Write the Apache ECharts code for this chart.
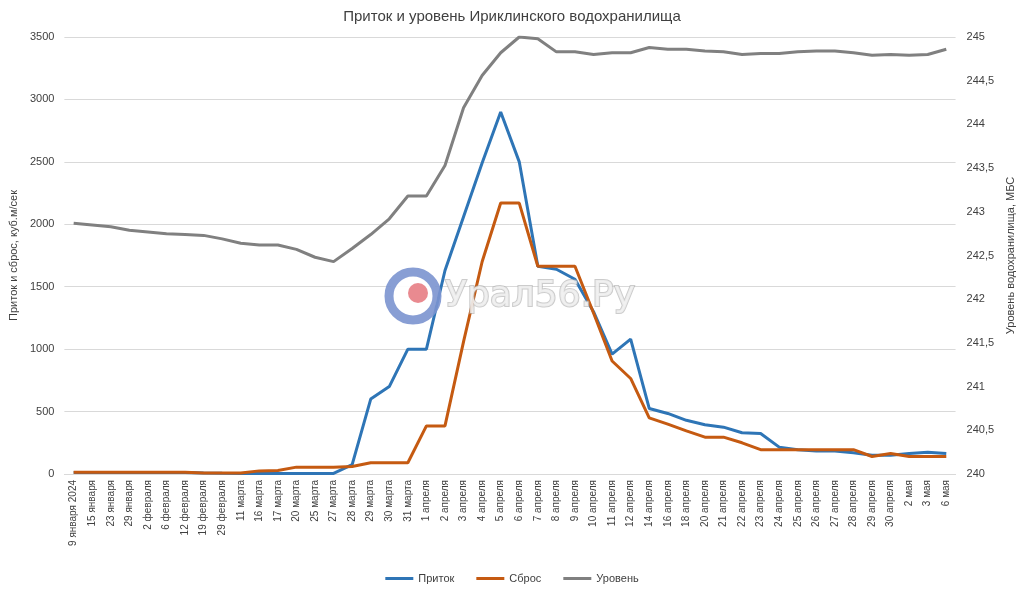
<!DOCTYPE html>
<html><head><meta charset="utf-8">
<script src="https://cdn.jsdelivr.net/npm/echarts@6/dist/echarts.min.js"></script>
<style>html,body{margin:0;padding:0;background:#fff}#c{width:1024px;height:595px}</style>
</head><body><div id="c"></div>
<script>
const categories = ["9 января 2024","15 января","23 января","29 января","2 февраля","6 февраля","12 февраля","19 февраля","29 февраля","11 марта","16 марта","17 марта","20 марта","25 марта","27 марта","28 марта","29 марта","30 марта","31 марта","1 апреля","2 апреля","3 апреля","4 апреля","5 апреля","6 апреля","7 апреля","8 апреля","9 апреля","10 апреля","11 апреля","12 апреля","14 апреля","16 апреля","18 апреля","20 апреля","21 апреля","22 апреля","23 апреля","24 апреля","25 апреля","26 апреля","27 апреля","28 апреля","29 апреля","30 апреля","2 мая","3 мая","6 мая"];
const inflow = [12,12,12,12,12,12,12,8,6,5,5,5,5,5,5,75,600,700,1000,1000,1630,2060,2490,2900,2500,1664,1640,1560,1300,960,1080,525,485,430,395,375,330,325,215,195,185,185,170,150,150,165,175,165];
const discharge = [15,15,15,15,15,15,15,8,8,8,25,28,55,55,55,60,90,90,90,385,385,1060,1700,2170,2170,1664,1664,1664,1290,905,765,450,400,345,295,295,250,195,195,195,195,195,195,140,165,140,140,140];
const level = [242.87,242.85,242.83,242.79,242.77,242.75,242.74,242.73,242.69,242.64,242.62,242.62,242.57,242.48,242.43,242.58,242.74,242.92,243.18,243.18,243.53,244.19,244.56,244.82,245.0,244.98,244.83,244.83,244.80,244.82,244.82,244.88,244.86,244.86,244.84,244.83,244.80,244.81,244.81,244.83,244.84,244.84,244.82,244.79,244.80,244.79,244.80,244.86];
const leftTicks = {min:0,max:3500,interval:500};
const rightTicks = {min:240,max:245,interval:0.5};
const seriesNames = ["Приток","Сброс","Уровень"];

const font = "Liberation Sans";
const chart = echarts.init(document.getElementById('c'));
chart.setOption({
  animation:false,
  textStyle:{fontFamily:font},
  title:{text:"Приток и уровень Ириклинского водохранилища",left:'center',top:4,
    textStyle:{fontSize:15,fontWeight:'normal',color:'#404040',fontFamily:font}},
  legend:{bottom:6,left:'center',itemWidth:28,itemHeight:3,itemGap:22,icon:'rect',
    textStyle:{fontSize:11,color:'#404040'},data:seriesNames},
  grid:{left:62,right:67,top:37,bottom:121},
  xAxis:{type:'category',data:categories,boundaryGap:true,
    axisTick:{show:false},axisLine:{lineStyle:{color:'#d9d9d9'}},
    axisLabel:{interval:0,rotate:90,fontSize:10,color:'#404040',margin:6}},
  yAxis:[
    {type:'value',min:leftTicks.min,max:leftTicks.max,interval:leftTicks.interval,
     name:"Приток и сброс, куб.м/сек",nameLocation:'middle',nameGap:37,nameRotate:90,
     nameTextStyle:{fontSize:11,color:'#404040'},
     axisLabel:{fontSize:11,color:'#404040',margin:10,formatter:v=>String(v)},
     splitLine:{lineStyle:{color:'#d9d9d9',width:1}},axisLine:{show:false},axisTick:{show:false}},
    {type:'value',min:rightTicks.min,max:rightTicks.max,interval:rightTicks.interval,
     name:"Уровень водохранилища, МБС",nameLocation:'middle',nameGap:45,nameRotate:90,
     nameTextStyle:{fontSize:11,color:'#404040'},
     axisLabel:{fontSize:11,color:'#404040',margin:11,formatter:v=>String(v).replace('.',',')},
     splitLine:{show:false},axisLine:{show:false},axisTick:{show:false}}
  ],
  graphic:[
    {type:'circle',shape:{cx:413,cy:296,r:24},style:{fill:'#ffffff',stroke:'#7b93cf',lineWidth:9,opacity:0.9},z:20},
    {type:'circle',shape:{cx:418,cy:293,r:10},style:{fill:'#e8848a',opacity:0.95},z:21},
    {type:'text',x:445,y:279,style:{text:'Урал56.Ру',fontSize:36,fontFamily:'DejaVu Sans',fill:'rgba(240,240,240,0.9)',
      stroke:'rgba(170,170,170,0.6)',lineWidth:2},z:20}
  ],
  series:[
    {name:seriesNames[0],type:'line',data:inflow,yAxisIndex:0,symbol:'none',lineStyle:{width:3,color:'#2e75b6'},itemStyle:{color:'#2e75b6'},z:3},
    {name:seriesNames[1],type:'line',data:discharge,yAxisIndex:0,symbol:'none',lineStyle:{width:3,color:'#c55a11'},itemStyle:{color:'#c55a11'},z:4},
    {name:seriesNames[2],type:'line',data:level,yAxisIndex:1,symbol:'none',lineStyle:{width:3,color:'#808080'},itemStyle:{color:'#808080'},z:2}
  ]
});
</script></body></html>
